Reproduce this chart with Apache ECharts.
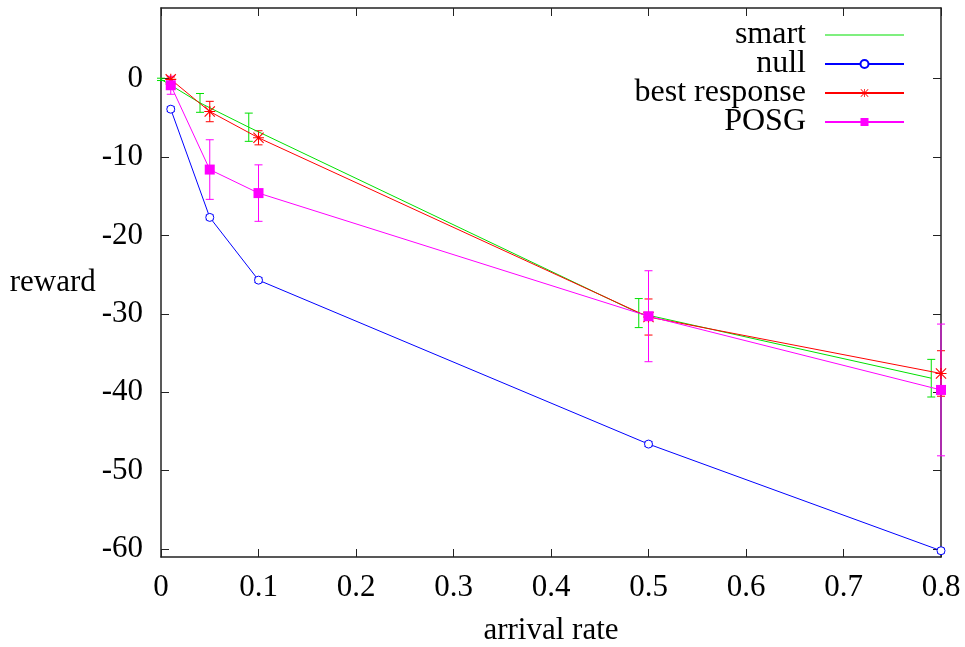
<!DOCTYPE html>
<html>
<head>
<meta charset="utf-8">
<script src="https://cdn.jsdelivr.net/npm/echarts@6/dist/echarts.min.js"></script>
<style>
  html, body { margin: 0; padding: 0; background: #fff; }
  #chart { width: 965px; height: 647px; }
</style>
</head>
<body>
<div id="chart"></div>
<script>
// values
const seriesNames = ['smart', 'null', 'best response', 'POSG']
const smartX = [0, 0.04, 0.09, 0.49, 0.79]
const smartY = [-0.1, -3.1, -6.2, -29.9, -38.2]
const smartErr = [0.15, 1.2, 1.8, 1.85, 2.4]
const rateX = [0.01, 0.05, 0.1, 0.5, 0.8]
const nullY = [-3.9, -17.7, -25.7, -46.6, -60.2]
const nullErr = [0.3, 0.3, 0.3, 0.3, 0.3]
const bestY = [-0.1, -4.2, -7.55, -30.4, -37.6]
const bestErr = [0.3, 1.3, 0.9, 2.3, 2.9]
const posgY = [-0.85, -11.6, -14.6, -30.3, -39.7]
const posgErr = [1.15, 3.8, 3.6, 5.8, 8.4]
const yTicks = [-60, -50, -40, -30, -20, -10, 0]

const font = 'Liberation Serif'
const frame = '#222'
const starPath = 'path://M4.5,0h1v10h-1z M0,4.5h10v1h-10z M0.7,0L10,9.3L9.3,10L0,0.7z M9.3,0L10,0.7L0.7,10L0,9.3z'

const pts = (xs, ys) => xs.map((x, i) => [x, ys[i]])
const bars = (xs, ys, es) => xs.map((x, i) => [x, ys[i] - es[i], ys[i] + es[i]])

function errorBars (name, color, data) {
  return {
    name: name + ' err',
    type: 'custom',
    data: data,
    renderItem: (params, api) => {
      const lo = api.coord([api.value(0), api.value(1)])
      const hi = api.coord([api.value(0), api.value(2)])
      const w = 4
      const st = { stroke: color, lineWidth: 1 }
      return {
        type: 'group',
        children: [
          { type: 'line', shape: { x1: lo[0], y1: lo[1], x2: hi[0], y2: hi[1] }, style: st },
          { type: 'line', shape: { x1: lo[0] - w, y1: lo[1], x2: lo[0] + w, y2: lo[1] }, style: st },
          { type: 'line', shape: { x1: hi[0] - w, y1: hi[1], x2: hi[0] + w, y2: hi[1] }, style: st }
        ]
      }
    }
  }
}

function lineSeries (name, color, data, symbol, size, hollow) {
  return {
    name: name,
    type: 'line',
    data: data,
    symbol: symbol,
    symbolSize: size,
    showAllSymbol: true,
    color: color,
    lineStyle: { color: color, width: 1 },
    itemStyle: hollow
      ? { color: '#fff', borderColor: color, borderWidth: 1 }
      : { color: color, borderWidth: 0 },
    emphasis: { disabled: true },
    animation: false
  }
}

const xBase = {
  type: 'value', min: 0, max: 0.8, interval: 0.1,
  axisLine: { onZero: false, lineStyle: { color: frame, width: 1.5 } },
  axisTick: { inside: true, length: 8, lineStyle: { color: frame } },
  splitLine: { show: false }
}
const yBase = {
  type: 'value', min: -61, max: 9,
  axisLine: { show: true, onZero: false, lineStyle: { color: frame, width: 1.5 } },
  axisTick: { inside: true, length: 8, customValues: yTicks, lineStyle: { color: frame } },
  splitLine: { show: false }
}

const chart = echarts.init(document.getElementById('chart'))
chart.setOption({
  animation: false,
  grid: { left: 161, right: 24, top: 8, bottom: 90, outerBoundsMode: 'none' },
  legend: {
    data: [
      { name: 'smart', icon: 'path://M0,0h79v1h-79z' },
      'null', 'best response', 'POSG'
    ],
    orient: 'vertical',
    right: 60,
    top: 19,
    padding: 0,
    align: 'right',
    itemWidth: 79,
    itemHeight: 10,
    itemGap: -3,
    textStyle: { fontFamily: font, fontSize: 32, color: '#000', lineHeight: 29, padding: [0, 14, 0, 0] }
  },
  xAxis: [
    Object.assign({}, xBase, {
      position: 'bottom',
      name: 'arrival rate', nameLocation: 'middle', nameGap: 58,
      nameTextStyle: { fontFamily: font, fontSize: 31, color: '#000' },
      axisLabel: { fontFamily: font, fontSize: 31, color: '#000', margin: 15 }
    }),
    Object.assign({}, xBase, { position: 'top', axisLabel: { show: false } })
  ],
  yAxis: [
    Object.assign({}, yBase, {
      position: 'left',
      name: 'reward', nameLocation: 'middle', nameGap: 57, nameRotate: 0,
      nameTextStyle: { fontFamily: font, fontSize: 31, color: '#000' },
      axisLabel: { fontFamily: font, fontSize: 31, color: '#000', margin: 18, customValues: yTicks }
    }),
    Object.assign({}, yBase, { position: 'right', axisLabel: { show: false } })
  ],
  series: [
    lineSeries('smart', '#00e000', pts(smartX, smartY), 'none', 0, false),
    errorBars('smart', '#00e000', bars(smartX, smartY, smartErr)),
    lineSeries('null', '#0000ff', pts(rateX, nullY), 'circle', 8, true),
    errorBars('null', '#0000ff', bars(rateX, nullY, nullErr)),
    lineSeries('best response', '#ff0000', pts(rateX, bestY), starPath, 11, false),
    errorBars('best response', '#ff0000', bars(rateX, bestY, bestErr)),
    lineSeries('POSG', '#ff00ff', pts(rateX, posgY), 'rect', 10, false),
    errorBars('POSG', '#ff00ff', bars(rateX, posgY, posgErr))
  ]
})
</script>
</body>
</html>
